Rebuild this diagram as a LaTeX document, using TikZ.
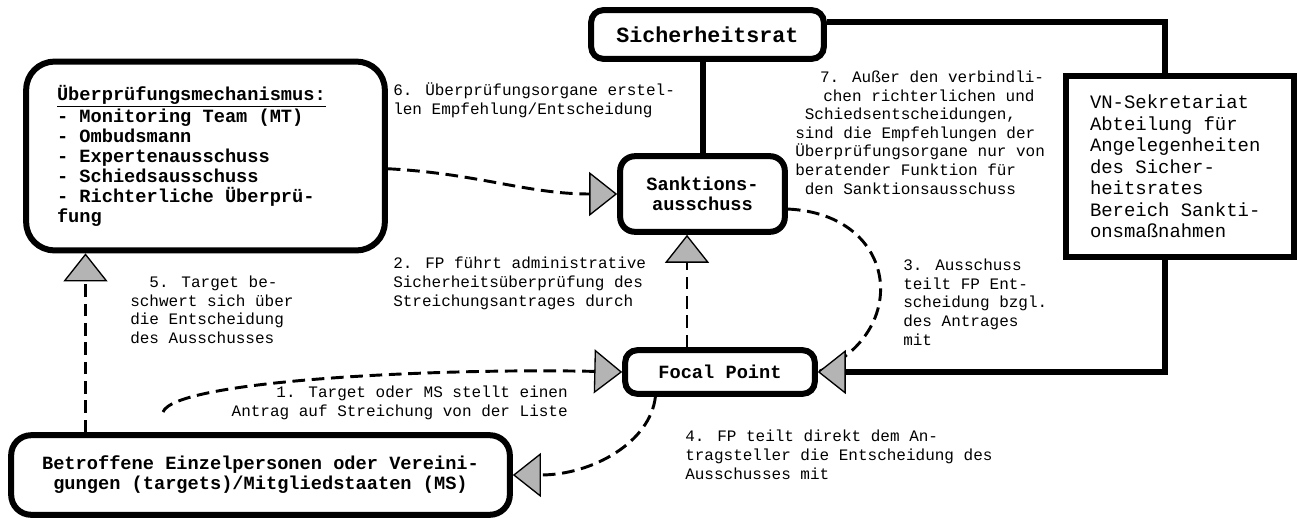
\documentclass[tikz,border=0pt]{standalone}
\usepackage{fontspec}
\setmainfont{Liberation Mono}[WordSpace={1,0,0}]
\usetikzlibrary{arrows.meta}
\definecolor{tipgray}{RGB}{180,180,180}
\tikzstyle{organ} = [rectangle, rounded corners=9pt, draw=black, line width=4.5pt, fill=white, align=center, inner sep=0pt, font=\fontsize{14}{15}\selectfont\bfseries, execute at begin node={\spaceskip=0pt\xspaceskip=0pt\relax}]
\tikzstyle{office} = [rectangle, draw=black, line width=4.5pt, fill=white, align=left, inner ysep=0pt, font=\fontsize{14.2}{16.1}\selectfont, execute at begin node={\spaceskip=0pt\xspaceskip=0pt\relax}]
\tikzstyle{note} = [align=left, inner sep=0pt, font=\fontsize{12}{13.9}\selectfont]
\tikzstyle{grayhead} = [-{Triangle[length=21pt 0 0, width=33pt 0 0, fill=tipgray, line width'=1pt]}]
\tikzstyle{dashline} = [line width=2.2pt, dash pattern=on 9.5pt off 5pt]
\tikzstyle{flow} = [dashline, grayhead]
\tikzstyle{link} = [line width=4.5pt]

\begin{document}
\begin{tikzpicture}[x=0.75pt, y=-0.75pt]
\useasboundingbox (0,0) rectangle (1297,518);

\node (sr) [organ, font=\fontsize{16.25}{18}\selectfont\bfseries, minimum width=174.5pt, minimum height=36.5pt] at (707.5,34.5) {Sicherheitsrat};
\node (sa) [organ, rounded corners=11pt, minimum width=123.5pt, minimum height=56.7pt] at (702.5,194) {Sanktions-\\ausschuss};
\node (fp) [organ, minimum width=142.2pt, minimum height=32.7pt] at (720,372) {Focal Point};
\node (ue) [organ, rounded corners=21pt, align=left, text width=222.75pt, inner xsep=23.1pt, minimum height=141.5pt] at (205.5,156) {\underline{Überprüfungsmechanismus:}\\- Monitoring Team (MT)\\- Ombudsmann\\- Expertenausschuss\\- Schiedsausschuss\\- Richterliche Überprü-\\fung};
\node (bt) [organ, rounded corners=15pt, minimum width=374pt, minimum height=59.7pt] at (260.5,475) {Betroffene Einzelpersonen oder Vereini-\\gungen (targets)/Mitgliedstaaten (MS)};
\node (vn) [office, text width=135pt, inner xsep=17.85pt, minimum height=135.5pt] at (1180,166.5) {VN-Sekretariat\\Abteilung für\\Angelegenheiten\\des Sicher-\\heitsrates\\Bereich Sankti-\\onsmaßnahmen};

\coordinate (req) at (163,412);

% annotations of the steps (placed at the baseline of their last line)
\node (n1) [note, align=right, anchor=base east] at (568,416.5) {1. Target oder MS stellt einen\\Antrag auf Streichung von der Liste};
\node (n2) [note, anchor=base west] at (393,306) {2. FP führt administrative\\Sicherheitsüberprüfung des\\Streichungsantrages durch};
\node (n3) [note, anchor=base west] at (903,345) {3. Ausschuss\\teilt FP Ent-\\scheidung bzgl.\\des Antrages\\mit};
\node (n4) [note, anchor=base west] at (685,479) {4. FP teilt direkt dem An-\\tragsteller die Entscheidung des\\Ausschusses mit};
\node (n5) [note, anchor=base west] at (130,343.5) {\hspace*{1.2em}5. Target be-\\schwert sich über\\die Entscheidung\\des Ausschusses};
\node (n6) [note, anchor=base west] at (393,114) {6. Überprüfungsorgane erstel-\\len Empfehlung/Entscheidung};
\node (n7) [note, anchor=base west] at (795,194) {\hspace*{1.55em}7. Außer den verbindli-\\\hspace*{1.75em}chen richterlichen und\\\hspace*{0.6em}Schiedsentscheidungen,\\sind die Empfehlungen der\\Überprüfungsorgane nur von\\beratender Funktion für\\\hspace*{0.6em}den Sanktionsausschuss};

\draw [link] (sa.north) -- (sa.north |- sr.south);
\draw [link] ([yshift=9.4pt]sr.east) -| ([xshift=-11.25pt]vn.north);
\draw [dashline] (sa.-10) .. controls +(110,5) and +(95,-40) .. (fp.east);
\draw [link, grayhead] ([xshift=-11.25pt]vn.south) |- (fp.east);
\draw [flow] (ue.-4) to[out=-3, in=180] (sa.west);
\draw [flow] ([xshift=-24.75pt]fp.north) -- ([xshift=-24.75pt]fp.north |- sa.south);
\draw [flow] (req) .. controls +(12,-32) and +(-180,-4) .. (fp.west);
\draw [flow] (fp.-159) .. controls +(-5,45) and +(80,0) .. (bt.east);
\draw [flow] ([xshift=-131.25pt]bt.north) -- ([xshift=-131.25pt]bt.north |- ue.south);

\end{tikzpicture}
\end{document}
